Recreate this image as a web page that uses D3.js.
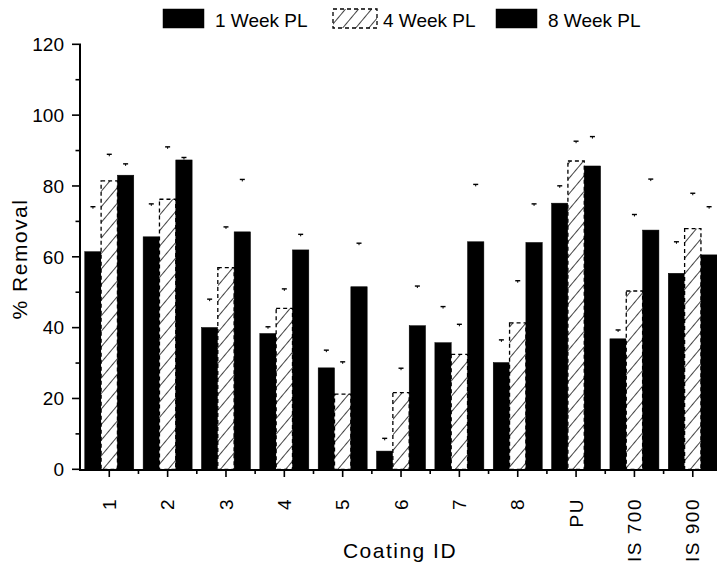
<!DOCTYPE html>
<html>
<head>
<meta charset="utf-8">
<script src="https://cdn.jsdelivr.net/npm/d3@7/dist/d3.min.js"></script>
<style>
  html, body { margin: 0; padding: 0; background: #fff; }
  svg { display: block; font-family: "Liberation Sans", Arial, Helvetica, sans-serif; }
</style>
</head>
<body>
<svg id="chart" width="717" height="565"></svg>
<script>
// Coating IDs along the x axis
const categories = ["1", "2", "3", "4", "5", "6", "7", "8", "PU", "IS 700", "IS 900"];
// Legend / series names
const seriesNames = ["1 Week PL", "4 Week PL", "8 Week PL"];
// % removal per coating, one array per series
const week1 = [61.5, 65.7, 40.1, 38.4, 28.7, 5.2, 35.8, 30.2, 75.2, 36.9, 55.4];
const week4 = [81.5, 76.3, 57.0, 45.5, 21.3, 21.7, 32.5, 41.4, 87.1, 50.4, 68.0];
const week8 = [83.1, 87.4, 67.1, 62.0, 51.6, 40.6, 64.3, 64.1, 85.7, 67.6, 60.6];
// upper error (standard deviation) per bar
const err1 = [12.7, 9.3, 8.0, 1.9, 5.0, 3.6, 10.2, 6.4, 4.9, 2.5, 8.9];
const err4 = [7.5, 14.8, 11.5, 5.5, 9.1, 6.9, 8.5, 11.9, 5.6, 21.6, 10.0];
const err8 = [3.2, 0.7, 14.8, 4.4, 12.3, 11.2, 16.2, 10.9, 8.3, 14.4, 13.6];
// y axis ticks
const yMajorTicks = [0, 20, 40, 60, 80, 100, 120];
const yMinorTicks = [10, 30, 50, 70, 90, 110];

const series = [
  { name: seriesNames[0], values: week1, err: err1, fill: "solid" },
  { name: seriesNames[1], values: week4, err: err4, fill: "hatch" },
  { name: seriesNames[2], values: week8, err: err8, fill: "solid" }
];

const svg = d3.select("#chart");
const defs = svg.append("defs");
const pat = defs.append("pattern")
  .attr("id", "hatch")
  .attr("patternUnits", "userSpaceOnUse")
  .attr("width", 10).attr("height", 10)
  .attr("patternTransform", "rotate(40)");
pat.append("rect").attr("width", 10).attr("height", 10).attr("fill", "#fff");
pat.append("rect").attr("x", 0).attr("y", 0).attr("width", 1).attr("height", 10).attr("fill", "#444");

// scales
const step = 58.35;
const xStart = 80.1;
const xEnd = xStart + step * categories.length;
const x0 = d3.scaleBand().domain(categories).range([xStart, xEnd]).padding(0);
const groupW = 49;
const x1 = d3.scaleBand().domain(seriesNames).range([-groupW / 2, groupW / 2]).padding(0);
const y = d3.scaleLinear().domain([0, 120]).range([469.5, 44.5]);
const xEdge = d3.scaleLinear().domain([-0.5, categories.length - 0.5]).range([xStart, xEnd]);
const cx = c => x0(c) + x0.bandwidth() / 2;
const axisX = 79;    // left edge of the y axis line
const axisY = 469;   // top edge of the x axis line
const lw = 2;        // axis line weight

// bars
series.forEach(s => {
  const gs = svg.append("g");
  gs.selectAll("rect").data(categories).join("rect")
    .attr("x", c => cx(c) + x1(s.name))
    .attr("width", x1.bandwidth())
    .attr("y", (c, i) => y(s.values[i]))
    .attr("height", (c, i) => y(0) - y(s.values[i]))
    .attr("fill", s.fill === "hatch" ? "url(#hatch)" : "#000")
    .attr("stroke", "#000")
    .attr("stroke-width", s.fill === "hatch" ? 1.3 : 0.5)
    .attr("stroke-dasharray", s.fill === "hatch" ? "4,3" : null);
  // error bar caps
  const caps = categories.map((c, i) => ({
    xc: cx(c) + x1(s.name) + x1.bandwidth() / 2,
    yt: y(s.values[i] + s.err[i])
  }));
  gs.selectAll("rect.cap").data(caps).join("rect").attr("class", "cap")
    .attr("x", d => d.xc - 2.5).attr("y", d => d.yt - 0.7)
    .attr("width", 5).attr("height", 1.4).attr("fill", "#000");
  gs.selectAll("rect.stub").data(caps).join("rect").attr("class", "stub")
    .attr("x", d => d.xc - 0.5).attr("y", d => d.yt)
    .attr("width", 1).attr("height", 2).attr("fill", "#000");
});

// axis lines and ticks, drawn as filled rectangles
const gAxes = svg.append("g").attr("fill", "#000");
gAxes.append("rect").attr("x", axisX).attr("y", y(120) - 1).attr("width", lw).attr("height", axisY + lw - y(120) + 1);
gAxes.append("rect").attr("x", axisX).attr("y", axisY).attr("width", xEnd - axisX).attr("height", lw);
gAxes.selectAll("rect.ymaj").data(yMajorTicks).join("rect").attr("class", "ymaj")
  .attr("x", axisX - 7).attr("y", d => y(d) - 1).attr("width", 7).attr("height", 1.6);
gAxes.selectAll("rect.ymin").data(yMinorTicks).join("rect").attr("class", "ymin")
  .attr("x", axisX - 3.5).attr("y", d => y(d) - 1).attr("width", 3.5).attr("height", 1.6);
gAxes.selectAll("rect.xmaj").data(categories).join("rect").attr("class", "xmaj")
  .attr("x", c => cx(c) - 0.8).attr("y", axisY + lw).attr("width", 1.6).attr("height", 6);
gAxes.selectAll("rect.xmin").data(d3.range(0.5, categories.length, 1)).join("rect").attr("class", "xmin")
  .attr("x", i => xEdge(i) - 0.8).attr("y", axisY + lw).attr("width", 1.6).attr("height", 3);

// rotated category labels
svg.append("g").selectAll("text").data(categories).join("text")
  .attr("transform", c => `translate(${cx(c)},498) rotate(-90)`)
  .attr("text-anchor", "end")
  .attr("dy", "0.35em")
  .attr("font-size", 19)
  .attr("letter-spacing", 1.5)
  .attr("fill", "#000")
  .text(c => c);

// y tick labels
svg.append("g").selectAll("text").data(yMajorTicks).join("text")
  .attr("x", axisX - 15).attr("y", d => y(d))
  .attr("dy", "0.35em")
  .attr("text-anchor", "end")
  .attr("font-size", 19)
  .attr("fill", "#000")
  .text(d => d);

// axis titles
svg.append("text")
  .attr("x", 400).attr("y", 558)
  .attr("text-anchor", "middle")
  .attr("font-size", 21)
  .attr("letter-spacing", 1.5)
  .text("Coating ID");
svg.append("text")
  .attr("transform", "translate(27,259) rotate(-90)")
  .attr("text-anchor", "middle")
  .attr("font-size", 21)
  .attr("letter-spacing", 1.5)
  .text("% Removal");

// legend
const legendX = [163, 333, 496];
series.forEach((s, i) => {
  svg.append("rect")
    .attr("x", legendX[i]).attr("y", 9)
    .attr("width", s.fill === "hatch" ? 44 : 41).attr("height", 19)
    .attr("fill", s.fill === "hatch" ? "url(#hatch)" : "#000")
    .attr("stroke", "#000")
    .attr("stroke-width", s.fill === "hatch" ? 1.3 : 0.5)
    .attr("stroke-dasharray", s.fill === "hatch" ? "4,3" : null);
  svg.append("text")
    .attr("x", legendX[i] + (s.fill === "hatch" ? 50 : 52)).attr("y", 27)
    .attr("font-size", 19)
    .text(s.name);
});
</script>
</body>
</html>
